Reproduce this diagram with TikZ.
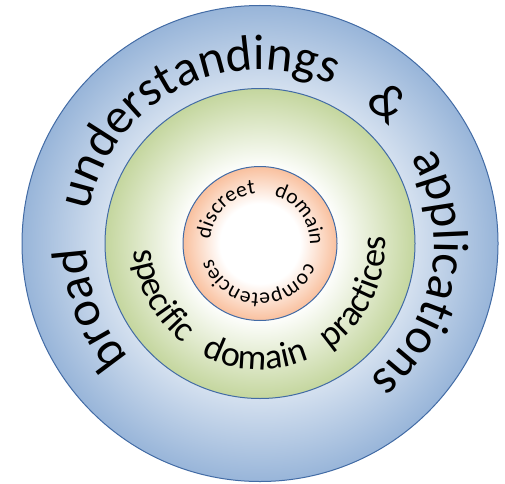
\documentclass[tikz,border=0pt]{standalone}
\usepackage{fontspec}
\setmainfont{Carlito}
\usetikzlibrary{decorations.text}
\definecolor{ringline}{RGB}{66,107,165}
\definecolor{ringblue}{RGB}{152,181,217}
\definecolor{ringgreen}{RGB}{196,214,158}
\definecolor{ringorange}{RGB}{249,192,158}
\pgfdeclareradialshading{blueshade}{\pgfpoint{0bp}{0bp}}{color(0bp)=(white); color(10bp)=(white); color(25bp)=(ringblue); color(50bp)=(ringblue)}
\pgfdeclareradialshading{greenshade}{\pgfpoint{0bp}{0bp}}{color(0bp)=(white); color(12bp)=(white); color(25bp)=(ringgreen); color(50bp)=(ringgreen)}
\pgfdeclareradialshading{orangeshade}{\pgfpoint{0bp}{0bp}}{color(0bp)=(white); color(13bp)=(white); color(25bp)=(ringorange); color(50bp)=(ringorange)}

\begin{document}
\begin{tikzpicture}[x=1pt,y=1pt]
\useasboundingbox (0,0) rectangle (505,483);
\coordinate (C) at (260,239.5);
\shadedraw[shading=blueshade,draw=ringline,line width=1pt] (C) circle (238);
\shadedraw[shading=greenshade,draw=ringline,line width=1pt] (C) circle (155);
\shadedraw[shading=orangeshade,draw=ringline,line width=1pt] (C) circle (77);

\path[decorate,decoration={text along path,text align={fit to path stretching spaces},
  text={|\fontsize{50}{60}\selectfont|broad understandings {\&} applications}}]
  ([shift={(221:174)}]C) arc[start angle=221,end angle=-51,radius=174];
\path[decorate,decoration={text along path,text align={fit to path stretching spaces},
  text={|\fontsize{36}{43}\selectfont|specific domain practices}}]
  ([shift={(183:126)}]C) arc[start angle=183,end angle=363,radius=126];
\path[decorate,decoration={text along path,text align={fit to path stretching spaces},
  text={|\fontsize{21.5}{26}\selectfont|discreet domain competencies}}]
  ([shift={(175:50)}]C) arc[start angle=175,end angle=-162.5,radius=50];

\end{tikzpicture}
\end{document}
